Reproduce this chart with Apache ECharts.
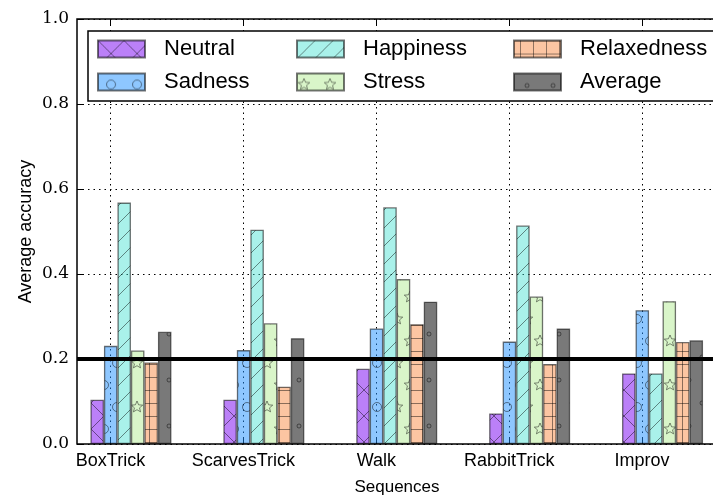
<!DOCTYPE html>
<html>
<head>
<meta charset="utf-8">
<script src="https://cdn.jsdelivr.net/npm/echarts@6/dist/echarts.min.js"></script>
<style>
  html, body { margin: 0; padding: 0; background: #fff; }
  #chart { width: 713px; height: 499px; }
</style>
</head>
<body>
<div id="chart"></div>
<script>
// categories and values
var categories = ['BoxTrick', 'ScarvesTrick', 'Walk', 'RabbitTrick', 'Improv'];
var neutral = [0.104, 0.104, 0.177, 0.072, 0.166];
var sadness = [0.231, 0.221, 0.272, 0.241, 0.315];
var happiness = [0.568, 0.504, 0.557, 0.514, 0.166];
var stress = [0.220, 0.284, 0.388, 0.347, 0.336];
var relaxedness = [0.192, 0.135, 0.282, 0.188, 0.240];
var average = [0.264, 0.249, 0.335, 0.272, 0.244];
var threshold = 0.2;
var yMin = 0, yMax = 1, yStep = 0.2;

var HATCH = 'rgba(0,0,0,0.45)';

// hatch fills, drawn on a little canvas and repeated
function makePattern(w, h, base, draw) {
    var c = document.createElement('canvas');
    c.width = w;
    c.height = h;
    var ctx = c.getContext('2d');
    ctx.fillStyle = base;
    ctx.fillRect(0, 0, w, h);
    ctx.strokeStyle = HATCH;
    ctx.lineWidth = 1;
    draw(ctx, w, h);
    return { image: c, repeat: 'repeat' };
}

function line(ctx, x1, y1, x2, y2) {
    ctx.beginPath();
    ctx.moveTo(x1, y1);
    ctx.lineTo(x2, y2);
    ctx.stroke();
}

function circle(ctx, x, y, r) {
    ctx.beginPath();
    ctx.arc(x, y, r, 0, Math.PI * 2);
    ctx.stroke();
}

function star(ctx, cx, cy, r) {
    ctx.beginPath();
    for (var i = 0; i < 10; i++) {
        var rr = i % 2 === 0 ? r : r * 0.45;
        var a = -Math.PI / 2 + i * Math.PI / 5;
        var x = cx + rr * Math.cos(a), y = cy + rr * Math.sin(a);
        if (i === 0) ctx.moveTo(x, y); else ctx.lineTo(x, y);
    }
    ctx.closePath();
    ctx.stroke();
}

var fills = {
    Neutral: makePattern(26, 26, 'rgba(150,60,245,0.65)', function (ctx, w, h) {
        line(ctx, 0, 0, w, h);
        line(ctx, 0, h, w, 0);
    }),
    Sadness: makePattern(26, 44, 'rgba(30,144,255,0.5)', function (ctx) {
        circle(ctx, 13, 11, 4.5);
        circle(ctx, 0, 33, 4.5);
        circle(ctx, 26, 33, 4.5);
    }),
    Happiness: makePattern(18, 18, 'rgba(64,224,208,0.45)', function (ctx, w, h) {
        line(ctx, -1, h + 1, w + 1, -1);
    }),
    Stress: makePattern(26, 44, 'rgba(160,230,120,0.4)', function (ctx) {
        star(ctx, 7, 11, 6);
        star(ctx, 20, 33, 6);
    }),
    Relaxedness: makePattern(13, 13, 'rgba(250,140,70,0.5)', function (ctx, w, h) {
        line(ctx, 0, 0.5, w, 0.5);
        line(ctx, 6.5, 0, 6.5, h);
    }),
    Average: makePattern(26, 46, 'rgba(64,64,64,0.7)', function (ctx) {
        circle(ctx, 13, 12, 2);
        circle(ctx, 0, 35, 2);
        circle(ctx, 26, 35, 2);
    })
};

function barSeries(name, values) {
    return {
        name: name,
        type: 'bar',
        xAxisIndex: 3,
        yAxisIndex: 2,
        data: values,
        barWidth: 13.5,
        barGap: '0%',
        z: 2,
        itemStyle: {
            color: fills[name],
            borderColor: 'rgba(0,0,0,0.55)',
            borderWidth: 1.3
        }
    };
}

function legendBlock(names, left) {
    return {
        data: names,
        left: left,
        top: 38,
        padding: 0,
        orient: 'vertical',
        itemWidth: 47,
        itemHeight: 17,
        itemGap: 11,
        icon: 'rect',
        z: 5,
        textStyle: {
            fontFamily: 'Liberation Sans',
            fontSize: 22,
            color: '#000',
            padding: [0, 0, 0, 14]
        }
    };
}

var dotted = { color: '#000', width: 1, type: [1.5, 4] };

var chart = echarts.init(document.getElementById('chart'), null, { renderer: 'canvas' });

chart.setOption({
    animation: false,
    backgroundColor: '#fff',
    grid: [
        // frame, y axis and axis titles (right edge runs past the window)
        { left: 77, top: 19, width: 640, height: 425, outerBoundsMode: 'none', show: true, borderColor: '#000', borderWidth: 1.5, backgroundColor: 'transparent' },
        // category ticks and labels
        { left: 110.5, top: 19, width: 531.6, height: 425, outerBoundsMode: 'none' },
        // bars
        { left: 64.5, top: 19, width: 664.5, height: 425, outerBoundsMode: 'none' }
    ],
    legend: [
        legendBlock(['Neutral', 'Sadness'], 97),
        legendBlock(['Happiness', 'Stress'], 296),
        legendBlock(['Relaxedness', 'Average'], 513)
    ],
    graphic: [{
        type: 'rect',
        z: 4,
        shape: { x: 88, y: 31, width: 700, height: 70 },
        style: { fill: '#fff', stroke: '#000', lineWidth: 1.5 }
    }],
    xAxis: [
        {
            gridIndex: 0, type: 'value', min: 0, max: 1,
            axisLine: { show: false }, axisTick: { show: false },
            axisLabel: { show: false }, splitLine: { show: false },
            name: 'Sequences', nameLocation: 'middle', nameGap: 35,
            nameTextStyle: { fontFamily: 'Liberation Sans', fontSize: 17, color: '#000' }
        },
        {
            gridIndex: 1, type: 'category', data: categories, boundaryGap: false,
            axisLine: { show: false },
            axisTick: { inside: true, length: 6, interval: 0, lineStyle: { color: '#000' } },
            axisLabel: { fontFamily: 'Liberation Sans', fontSize: 18, color: '#000', margin: 8, interval: 0 },
            splitLine: { show: true, interval: 0, lineStyle: dotted }
        },
        {
            gridIndex: 1, type: 'category', data: categories, boundaryGap: false, position: 'top',
            axisLine: { show: false },
            axisTick: { inside: true, length: 6, interval: 0, lineStyle: { color: '#000' } },
            axisLabel: { show: false }, splitLine: { show: false }
        },
        { gridIndex: 2, type: 'category', data: categories, show: false }
    ],
    yAxis: [
        {
            gridIndex: 0, type: 'value', min: yMin, max: yMax, interval: yStep,
            axisLine: { show: false },
            axisTick: { inside: true, length: 6, lineStyle: { color: '#000' } },
            axisLabel: {
                fontFamily: 'DejaVu Serif', fontSize: 17, color: '#000', margin: 8,
                formatter: function (v) { return v.toFixed(1); }
            },
            splitLine: { show: true, lineStyle: dotted },
            name: 'Average accuracy', nameLocation: 'middle', nameGap: 42,
            nameMoveOverlap: false,
            nameTextStyle: { fontFamily: 'Liberation Sans', fontSize: 18, color: '#000' }
        },
        { gridIndex: 1, type: 'value', min: yMin, max: yMax, show: false },
        { gridIndex: 2, type: 'value', min: yMin, max: yMax, show: false }
    ],
    series: [
        barSeries('Neutral', neutral),
        barSeries('Sadness', sadness),
        barSeries('Happiness', happiness),
        barSeries('Stress', stress),
        barSeries('Relaxedness', relaxedness),
        barSeries('Average', average),
        {
            // thick reference line at chance level
            type: 'line',
            xAxisIndex: 0,
            yAxisIndex: 0,
            data: [],
            z: 10,
            markLine: {
                silent: true,
                symbol: 'none',
                label: { show: false },
                lineStyle: { color: '#000', width: 4, type: 'solid' },
                data: [{ yAxis: threshold }]
            }
        }
    ]
});
</script>
</body>
</html>
